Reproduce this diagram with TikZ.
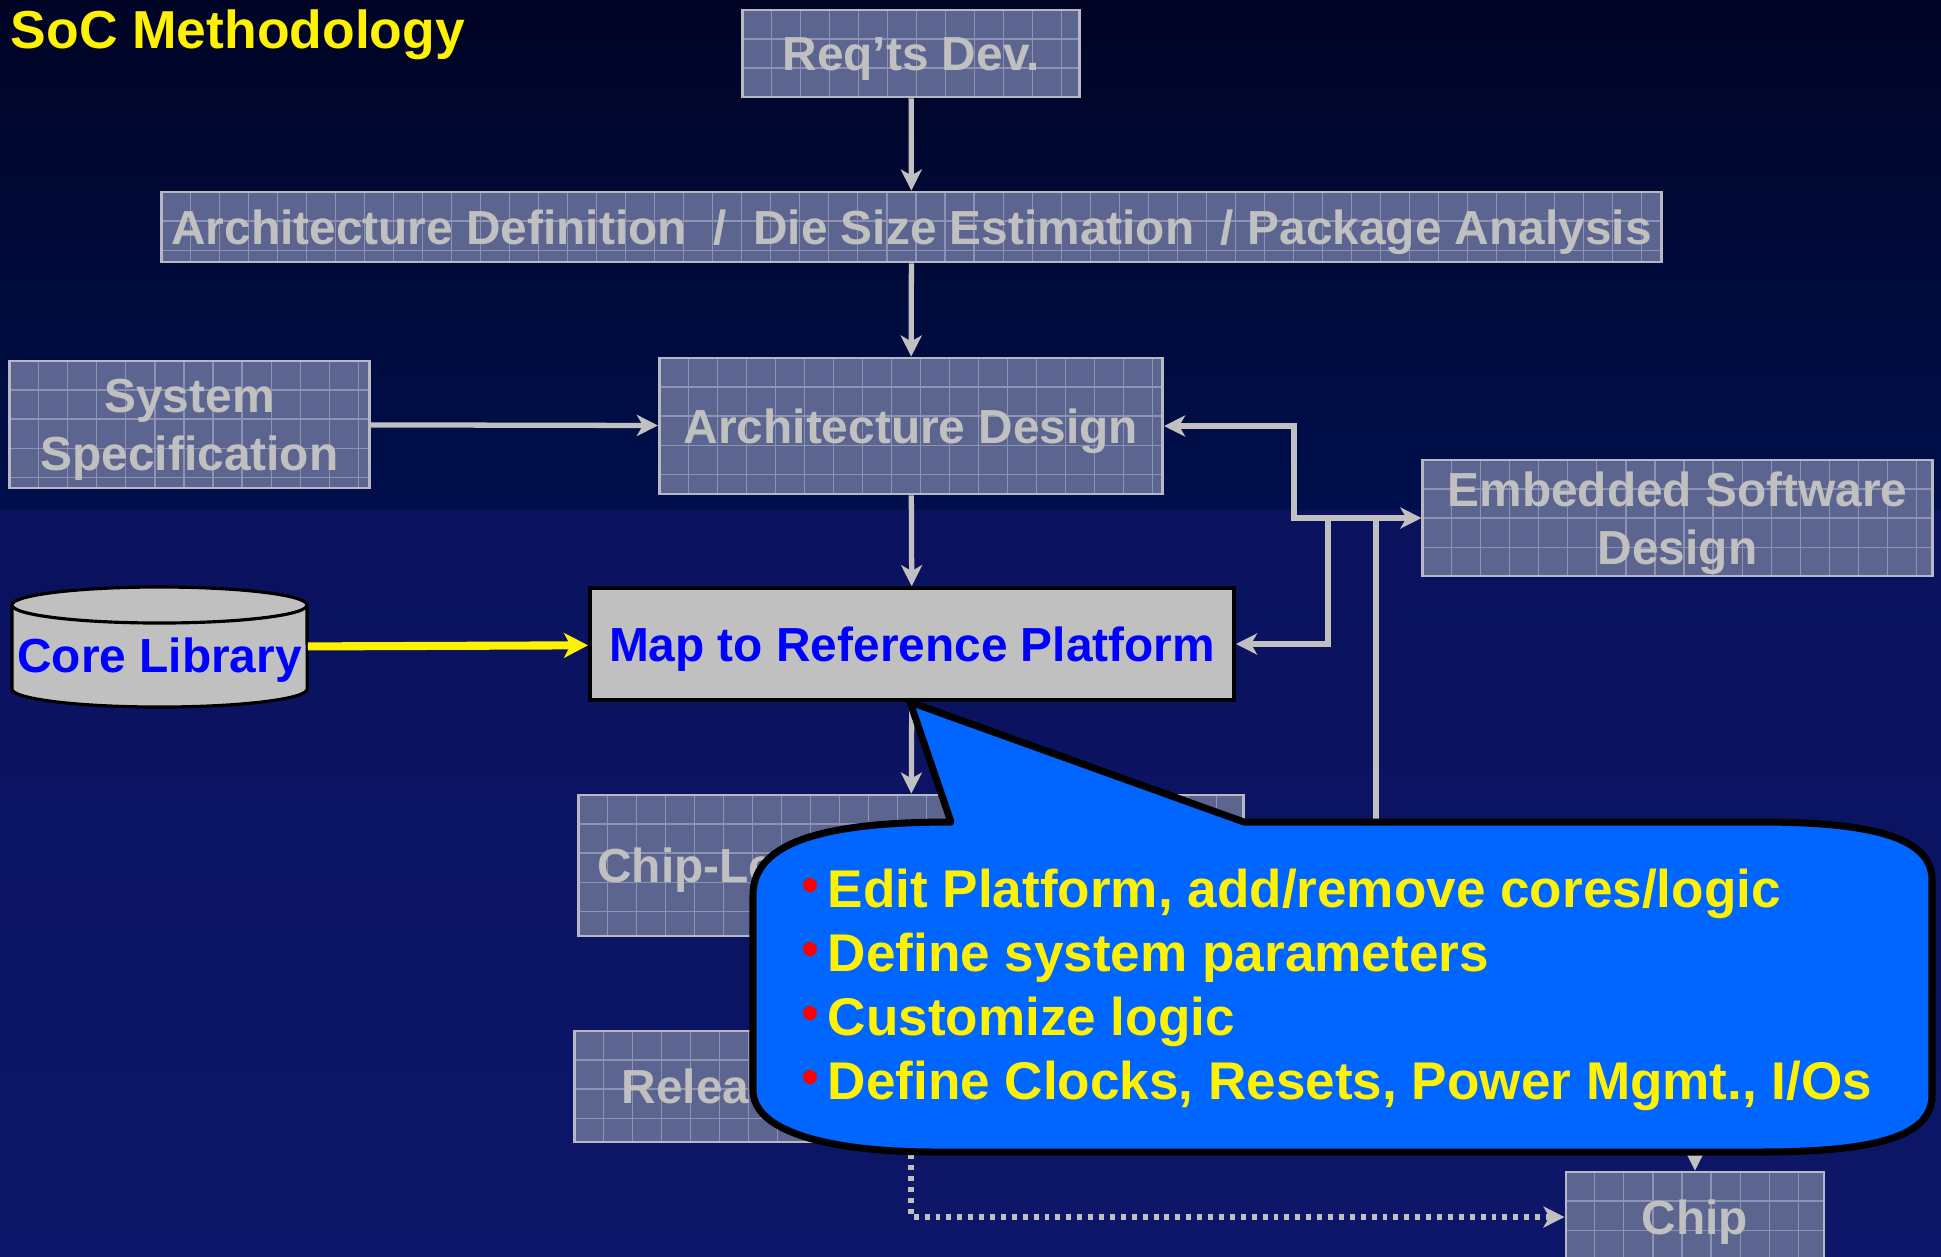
\documentclass[tikz,border=0pt]{standalone}
\usepackage{fontspec}
\setmainfont{Liberation Sans}
\usetikzlibrary{arrows.meta}

\definecolor{navytop}{HTML}{000425}
\definecolor{navymid}{HTML}{000F4C}
\definecolor{navylow}{HTML}{0A125E}
\definecolor{navybot}{HTML}{0D1668}
\definecolor{boxfill}{HTML}{5C6590}
\definecolor{boxgrid}{HTML}{8D93B2}
\definecolor{boxline}{HTML}{B8B8C4}
\definecolor{silver}{HTML}{C0C0C0}
\definecolor{calloutblue}{HTML}{0066FF}
\definecolor{bulletred}{HTML}{FF0000}

\begin{document}
\begin{tikzpicture}[
	x=0.01cm, y=-0.01cm,
	stage/.style={ draw=boxline, line width=0.8pt, fill=boxfill, text=silver, inner sep=0pt,
		font=\bfseries\fontsize{13.6}{16.5}\selectfont,
		path picture={
			\foreach \k in {1,...,52} \draw[boxgrid, line width=0.3pt] ([xshift=\k*0.29cm]path picture bounding box.north west) -- ++(0cm,-2cm);
			\foreach \k in {1,...,6} \draw[boxgrid, line width=0.3pt] ([yshift=-\k*0.29cm]path picture bounding box.north west) -- ++(16cm,0cm);
		} },
	caps/.style={ text height=0.342cm, text depth=0pt },
	caps2/.style={ align=center, text height=0.922cm, text depth=0pt },
	platform/.style={ draw=black, line width=1pt, fill=silver, text=blue, inner sep=0pt, font=\bfseries\fontsize{13.6}{16.5}\selectfont },
	flow/.style={ draw=silver, line width=1.5pt, -{Stealth[length=6pt,width=6pt,inset=1.7pt]} },
	dotflow/.style={ flow, dash pattern=on 1.4pt off 1.7pt },
	feed/.style={ draw=yellow, line width=2.3pt, -{Stealth[length=6.8pt,width=7pt,inset=1.8pt]} },
	callout/.style={ draw=black, line width=2pt, fill=calloutblue, line join=round },
	point/.style={ anchor=base west, inner sep=0pt, text=yellow, font=\bfseries\fontsize{15.1}{18}\selectfont },
	title/.style={ anchor=base west, inner sep=0pt, text=yellow, font=\bfseries\fontsize{15.2}{18}\selectfont }
]

\useasboundingbox (0,0) rectangle (1941,1256);
\clip (0,0) rectangle (1941,1256);

% background
\fill[top color=navytop, bottom color=navymid] (0,0) rectangle (1941,510);
\fill[top color=navylow, bottom color=navybot] (0,510) rectangle (1941,1256);

\node[title] (title) at (10,48) {SoC Methodology};

% flow boxes
\node[stage, caps, minimum width=3.37cm, minimum height=0.87cm] (reqdev) at (911,53.5) {Req’ts Dev.};
\node[stage, caps, minimum width=14.99cm, minimum height=0.70cm] (archdef) at (911.5,227) {Architecture Definition\ \ /\ \ Die Size Estimation\ \ /\ Package Analysis};
\node[stage, caps2, minimum width=3.59cm, minimum height=1.27cm] (sysspec) at (189.5,424.5) {System\\Specification};
\node[stage, caps, minimum width=5.03cm, minimum height=1.36cm] (archdes) at (911,426) {Architecture Design};
\node[stage, caps2, minimum width=5.09cm, minimum height=1.16cm] (esw) at (1677.5,518) {Embedded Software\\Design};
\node[platform, caps, minimum width=6.44cm, minimum height=1.12cm] (map) at (912,644) {Map to Reference Platform};
\node[stage, caps, minimum width=6.65cm, minimum height=1.41cm, inner xsep=0.19cm, text width=6.27cm, align=left] (chiplvl) at (911,865.5) {Chip-Level};
\node[stage, caps, minimum width=6.72cm, minimum height=1.11cm, inner xsep=0.47cm, text width=5.78cm, align=left] (release) at (911,1086.5) {Release};
\node[stage, caps, minimum width=2.58cm, minimum height=0.90cm] (chip) at (1695,1217) {Chip};

% core library drum
\fill[silver] (12,605) -- (12,689) arc[start angle=180, end angle=360, x radius=1.475cm, y radius=0.18cm] -- (307,605) arc[start angle=0, end angle=180, x radius=1.475cm, y radius=0.18cm] -- cycle;
\draw[line width=0.9pt] (12,605) -- (12,689) arc[start angle=180, end angle=360, x radius=1.475cm, y radius=0.18cm] -- (307,605) arc[start angle=0, end angle=180, x radius=1.475cm, y radius=0.18cm];
\draw[line width=0.9pt] (12,605) arc[start angle=180, end angle=360, x radius=1.475cm, y radius=0.18cm];
\node[inner sep=0pt, minimum width=2.95cm, minimum height=0.84cm, text=blue, font=\bfseries\fontsize{13.6}{16.5}\selectfont, text height=0.6cm, text depth=0.1cm] (corelib) at (159.5,647) {Core Library};

% connectors
\draw[flow] (reqdev) -- (archdef);
\draw[flow] (archdef) -- (archdes);
\draw[flow] (sysspec) -- (archdes);
\draw[flow] (archdes) -- (map);
\draw[flow] (map) -- (chiplvl);
\draw[feed] (corelib) -- (map);

\coordinate (fbbot) at (1376,960);
\coordinate (jright) at (1376,518);
\coordinate (jmid) at (1328,518);
\coordinate (jleft) at (1294,518);
\coordinate (chipsrc) at (1695,1120);
\draw[flow] (fbbot) |- (esw.west);
\draw[flow] (jright) -- (jleft) |- (archdes.east);
\draw[flow] (jmid) |- (map.east);
\draw[flow] (chipsrc) -- (chip.north);
\draw[dotflow] (release.south) |- (chip.west);

% callout
\draw[callout] (910,702) -- (951,822) .. controls (830,822) and (753,840) .. (753,895) -- (753,1090) .. controls (753,1135) and (840,1152) .. (935,1152) -- (1760,1152) .. controls (1880,1152) and (1932,1135) .. (1932,1095) -- (1932,880) .. controls (1932,840) and (1880,822) .. (1760,822) -- (1244,822) -- cycle;

\node[point] (pt1) at (827,907) {Edit Platform, add/remove cores/logic};
\node[point] (pt2) at (827,971) {Define system parameters};
\node[point] (pt3) at (827,1035) {Customize logic};
\node[point] (pt4) at (827,1099) {Define Clocks, Resets, Power Mgmt., I/Os};
\fill[bulletred] ([xshift=-0.17cm,yshift=0.22cm]pt1.base west) circle[radius=0.07cm];
\fill[bulletred] ([xshift=-0.17cm,yshift=0.22cm]pt2.base west) circle[radius=0.07cm];
\fill[bulletred] ([xshift=-0.17cm,yshift=0.22cm]pt3.base west) circle[radius=0.07cm];
\fill[bulletred] ([xshift=-0.17cm,yshift=0.22cm]pt4.base west) circle[radius=0.07cm];

\end{tikzpicture}
\end{document}
